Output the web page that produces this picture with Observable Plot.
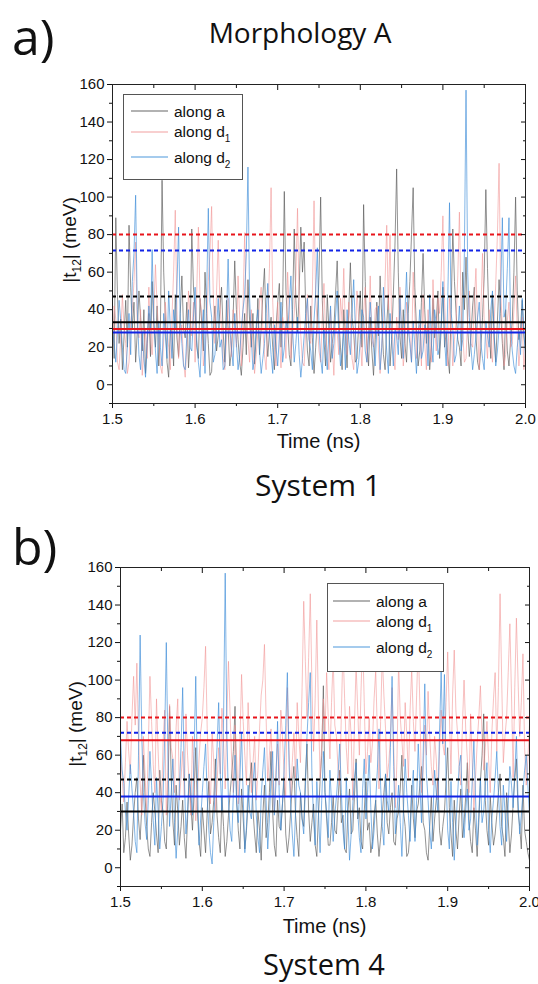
<!DOCTYPE html>
<html>
<head>
<meta charset="utf-8">
<script src="https://cdn.jsdelivr.net/npm/d3@7"></script>
<script src="https://cdn.jsdelivr.net/npm/@observablehq/plot@0.6"></script>
<style>
  html, body { margin: 0; padding: 0; background: #fff; }
  #page { position: relative; width: 538px; height: 984px; overflow: hidden; background: #fff; }
  .panel { position: absolute; left: 0; }
  #overlay { position: absolute; left: 0; top: 0; pointer-events: none; }
  .ttl { font-family: "Open Sans", "Noto Sans", sans-serif; fill: #111; }
  .ax { font-family: "Liberation Sans", Arial, sans-serif; fill: #111; }
  .lg { font-family: "Liberation Sans", Arial, sans-serif; fill: #111; font-size: 15.5px; }
</style>
</head>
<body>
<div id="page">
  <div id="panelA" class="panel" style="top:60px"></div>
  <div id="panelB" class="panel" style="top:545px"></div>
  <svg id="overlay" width="538" height="984">
    <text class="ttl" x="12" y="55" font-size="50">a)</text>
    <text class="ttl" x="300" y="43" font-size="28" text-anchor="middle">Morphology A</text>
    <text class="ax" font-size="19" text-anchor="middle" transform="translate(76,240) rotate(-90)">|t<tspan font-size="12" dy="5">12</tspan><tspan dy="-5">| (meV)</tspan></text>
    <text class="ax" x="318.5" y="448" font-size="20" text-anchor="middle">Time (ns)</text>
    <text class="ttl" x="318" y="496" font-size="30" text-anchor="middle">System 1</text>

    <text class="ttl" x="12" y="565" font-size="50">b)</text>
    <text class="ax" font-size="19" text-anchor="middle" transform="translate(82,724) rotate(-90)">|t<tspan font-size="12" dy="5">12</tspan><tspan dy="-5">| (meV)</tspan></text>
    <text class="ax" x="324.5" y="933" font-size="20" text-anchor="middle">Time (ns)</text>
    <text class="ttl" x="324" y="975" font-size="29" text-anchor="middle">System 4</text>

    <g id="legendA">
      <rect x="123.5" y="94.5" width="119" height="85" fill="#fff" stroke="#555" stroke-width="1"/>
      <line x1="131" x2="168" y1="111" y2="111" stroke="#666" stroke-width="1.2"/>
      <line x1="131" x2="168" y1="132" y2="132" stroke="#f2a0a0" stroke-width="1.2"/>
      <line x1="131" x2="168" y1="157" y2="157" stroke="#4c98dc" stroke-width="1.2"/>
      <text class="lg" x="174" y="117">along a</text>
      <text class="lg" x="174" y="137">along d<tspan font-size="10" dy="5">1</tspan></text>
      <text class="lg" x="174" y="163">along d<tspan font-size="10" dy="5">2</tspan></text>
    </g>
    <g id="legendB">
      <rect x="327.5" y="583.5" width="116" height="88" fill="#fff" stroke="#555" stroke-width="1"/>
      <line x1="333" x2="370" y1="601" y2="601" stroke="#666" stroke-width="1.2"/>
      <line x1="333" x2="370" y1="621" y2="621" stroke="#f2a0a0" stroke-width="1.2"/>
      <line x1="333" x2="370" y1="647" y2="647" stroke="#4c98dc" stroke-width="1.2"/>
      <text class="lg" x="376" y="607">along a</text>
      <text class="lg" x="376" y="627">along d<tspan font-size="10" dy="5">1</tspan></text>
      <text class="lg" x="376" y="653">along d<tspan font-size="10" dy="5">2</tspan></text>
    </g>
  </svg>
</div>
<script>
// ---- time sampling (ns) ----
const timeStart = 1.5;
const timeStep = 0.002;

// ---- axis ticks ----
const xMajor = [1.5, 1.6, 1.7, 1.8, 1.9, 2.0];
const xMinor = [1.55, 1.65, 1.75, 1.85, 1.95];
const yMajor = [0, 20, 40, 60, 80, 100, 120, 140, 160];
const yMinor = [-10, 10, 30, 50, 70, 90, 110, 130, 150];

// ---- series styling ----
const seriesNames = ["along a", "along d1", "along d2"];
const seriesColors = ["#555555", "#f08f8f", "#3b8ad8"];
const seriesOpacity = [0.8, 0.7, 0.8];
const ruleColors = ["#000000", "#e8141b", "#1023e6"];

// ---- System 1 (panel a) |t12| in meV ----
const blackA = [40,14,89,48,22,35,8,26,45,20,85,52,30,44,12,28,50,36,18,40,6,22,38,15,55,32,20,42,10,30,109,60,35,12,4,30,28,10,48,25,15,38,58,30,25,44,9,24,83,52,40,20,14,46,33,18,60,38,22,5,7,28,42,18,26,40,52,28,12,45,30,10,18,36,66,40,24,12,5,20,38,16,56,34,20,38,11,26,46,16,30,48,62,30,15,28,36,20,8,30,44,54,20,42,103,50,32,16,10,40,83,45,28,50,84,60,76,38,18,10,42,25,6,20,35,58,100,45,24,10,48,30,12,22,30,48,66,35,20,8,40,26,9,40,65,36,28,12,14,32,50,20,96,55,22,10,36,18,5,24,44,26,58,36,16,8,32,48,10,24,48,75,115,60,26,14,40,22,12,38,55,80,105,52,30,10,18,44,70,40,22,34,8,20,46,25,34,50,14,30,52,20,28,15,6,40,83,55,38,24,20,10,60,40,68,30,15,26,42,52,26,12,8,20,36,58,104,62,30,14,48,26,12,34,56,38,22,8,40,18,10,24,34,60,100,50,24,30,45,26,18];
const redA = [18,42,35,12,8,26,48,30,22,6,12,34,40,55,76,30,25,40,5,18,30,14,52,26,16,38,64,42,28,10,6,24,44,30,20,8,36,60,93,40,14,26,32,12,4,20,50,36,26,44,12,50,84,46,38,10,18,32,55,70,95,48,22,50,77,44,30,14,8,24,46,28,15,40,34,20,58,35,10,42,81,38,24,12,40,20,6,16,28,44,52,30,16,8,36,62,105,44,20,10,44,26,9,36,30,14,60,40,14,28,38,58,94,42,26,12,10,30,48,24,22,50,98,46,32,18,12,36,54,26,18,8,40,22,5,30,28,16,46,34,62,28,16,44,34,14,8,26,50,36,24,10,38,52,12,30,58,24,20,40,42,18,6,22,30,55,85,40,80,32,18,8,36,24,52,30,10,20,44,34,26,12,60,38,14,28,32,10,48,22,8,40,24,12,56,30,18,46,38,60,90,44,22,10,46,30,10,24,34,58,92,40,28,12,14,36,50,22,20,44,62,30,8,40,70,34,26,14,40,22,12,32,54,80,118,50,30,10,16,34,44,20,22,40,58,28,10,22,36,8,20];
const blueA = [30,22,12,28,45,34,20,8,6,20,38,16,55,70,101,40,16,8,28,14,4,24,42,30,72,36,18,6,34,20,10,38,26,14,50,30,14,40,30,52,84,36,22,10,8,26,40,20,18,36,52,24,12,4,28,40,6,48,94,44,36,12,16,30,46,20,24,8,10,36,67,30,20,10,38,22,8,16,30,40,48,70,116,46,26,8,14,32,40,18,6,14,22,38,54,28,16,6,32,20,10,26,44,12,20,34,28,42,58,30,12,22,36,16,4,14,26,38,46,24,18,8,34,50,73,30,14,6,30,20,8,28,42,14,22,36,50,26,10,18,28,8,40,24,16,38,56,30,6,12,24,40,36,18,12,26,44,30,20,10,30,42,8,20,52,32,18,6,38,24,10,30,26,16,46,28,14,38,60,30,22,12,34,20,6,26,40,14,18,32,28,10,48,22,12,40,32,16,20,34,55,24,10,48,97,38,30,12,16,28,42,18,24,70,157,60,36,20,8,16,26,36,44,22,14,8,34,26,20,40,50,28,10,18,30,50,89,36,40,62,89,30,18,10,6,20,28,16,46,30,14];
const solidA = [33.3, 29.7, 27.9];   // black, red, blue averages
const dashedA = [47, 80, 71.5];      // black, red, blue dashed levels

// ---- System 4 (panel b) |t12| in meV ----
const blackB = [20,34,8,16,35,18,4,12,28,40,48,26,15,32,60,38,22,10,6,24,40,30,18,8,52,36,30,14,10,40,86,48,25,12,44,30,12,22,36,16,5,26,50,34,20,40,64,30,14,6,32,20,8,30,46,18,24,36,58,28,16,8,38,22,6,14,28,40,50,62,86,36,20,10,42,26,10,20,34,46,56,30,18,8,30,20,4,28,44,16,24,40,62,30,12,6,36,22,20,34,48,18,8,16,30,44,54,28,16,6,40,26,22,48,66,30,14,24,34,12,6,28,46,60,97,40,26,12,12,24,38,20,18,36,52,24,28,10,8,30,42,18,20,38,58,26,32,14,10,30,46,20,24,8,14,28,36,18,6,16,28,40,50,24,18,32,40,14,12,26,30,42,60,30,22,6,8,20,44,26,16,30,34,44,54,24,20,8,4,22,38,14,26,36,48,20,12,22,30,46,64,32,18,6,36,20,10,28,42,16,24,38,56,26,14,8,32,20,6,24,46,60,82,36,20,12,38,24,12,18,28,40,50,22,16,6,40,26,8,18,34,48,58,30,22,10,44,20,14,8,4];
const redB = [60,48,35,56,78,62,50,80,102,76,109,70,45,28,70,50,30,64,102,78,55,40,90,62,40,30,66,84,28,52,87,64,58,40,75,90,36,48,62,38,82,60,44,28,70,46,25,40,58,72,80,96,118,74,48,34,72,56,30,44,64,50,85,66,42,80,110,82,56,40,76,58,34,66,103,78,60,44,88,64,40,56,70,36,52,74,92,100,119,80,46,60,74,48,30,52,66,44,84,70,50,38,96,64,38,56,72,48,88,70,56,96,142,110,80,112,146,98,62,90,132,84,48,66,90,72,104,80,58,88,112,76,70,52,44,82,118,90,64,50,86,70,36,76,108,84,60,94,122,88,50,62,80,56,66,90,105,72,42,78,114,92,74,48,56,70,96,64,32,58,110,80,68,54,88,70,48,84,106,78,62,92,120,86,40,52,76,60,94,70,54,44,70,58,36,62,84,66,60,88,115,82,50,92,116,84,72,54,44,76,100,74,58,40,82,56,30,48,66,80,97,70,52,64,78,58,40,72,90,104,62,96,146,100,56,70,80,104,130,92,48,96,133,100,70,88,114,64,44,58,76];
const blueB = [70,52,45,30,20,38,55,42,30,14,8,60,124,70,40,24,15,36,62,44,25,12,48,30,10,22,36,70,120,60,22,40,58,24,5,20,42,64,96,50,18,30,50,40,28,62,102,48,12,26,40,54,66,38,20,8,2,24,46,64,88,50,30,80,157,72,35,20,14,40,60,34,24,48,72,38,8,22,44,30,26,46,56,28,16,8,38,52,64,36,10,26,48,62,28,44,78,40,20,34,52,76,104,56,34,18,6,30,58,44,40,26,18,42,70,88,104,50,26,12,46,30,8,36,62,40,30,16,52,34,14,28,38,50,66,40,20,10,48,26,4,18,34,48,56,30,16,8,42,58,26,40,60,32,10,20,36,52,74,44,22,12,50,36,30,64,102,54,18,30,44,24,6,32,58,40,28,14,40,52,14,36,66,44,24,60,98,50,36,20,10,28,52,40,30,72,105,66,103,48,20,10,46,24,4,22,38,54,60,34,16,30,42,20,26,46,68,38,12,28,48,24,30,44,56,20,8,26,36,48,62,40,22,12,44,30,14,34,54,44,32,50,70,36,18,28,40,52,60,44,28];
const solidB = [30, 68, 38];
const dashedB = [47, 80, 72];

function rows(values) {
  return values.map((v, i) => ({t: timeStart + i * timeStep, v}));
}

function panel({series, solid, dashed, height, margins}) {
  const marks = [];
  series.forEach((vals, k) => {
    marks.push(Plot.line(rows(vals), {
      x: "t", y: "v", stroke: seriesColors[k], strokeOpacity: seriesOpacity[k],
      strokeWidth: 0.8, curve: "linear"
    }));
  });
  dashed.forEach((v, k) => {
    marks.push(Plot.ruleY([v], {stroke: ruleColors[k], strokeWidth: 2, strokeDasharray: "4,3"}));
  });
  solid.forEach((v, k) => {
    marks.push(Plot.ruleY([v], {stroke: ruleColors[k], strokeWidth: 2}));
  });
  const fmt1 = d => d.toFixed(1);
  marks.push(
    Plot.axisX(xMajor, {anchor: "bottom", tickSize: 5, tickPadding: 5, tickFormat: fmt1, label: null}),
    Plot.axisX(xMinor, {anchor: "bottom", tickSize: 3, tickFormat: () => "", label: null}),
    Plot.axisY(yMajor, {anchor: "left", tickSize: 5, tickPadding: 3, tickFormat: d => String(d), label: null}),
    Plot.axisY(yMinor, {anchor: "left", tickSize: 3, tickFormat: () => "", label: null}),
    Plot.axisX(xMajor, {anchor: "top", tickSize: 5, dy: 5, tickFormat: () => "", label: null}),
    Plot.axisX(xMinor, {anchor: "top", tickSize: 3, dy: 3, tickFormat: () => "", label: null}),
    Plot.axisY(yMajor, {anchor: "right", tickSize: 5, dx: -5, tickFormat: () => "", label: null}),
    Plot.axisY(yMinor, {anchor: "right", tickSize: 3, dx: -3, tickFormat: () => "", label: null}),
    Plot.frame({stroke: "#222", strokeWidth: 1})
  );
  return Plot.plot({
    width: 538, height,
    marginLeft: margins[0], marginRight: margins[1], marginTop: margins[2], marginBottom: margins[3],
    x: {domain: [1.5, 2.0]},
    y: {domain: [-10, 160]},
    style: {fontFamily: "'Liberation Sans', Arial, sans-serif", fontSize: "15px", color: "#111", background: "transparent"},
    marks
  });
}

document.getElementById("panelA").appendChild(panel({
  series: [blackA, redA, blueA], solid: solidA, dashed: dashedA,
  height: 400, margins: [112, 13, 24, 57]
}));
document.getElementById("panelB").appendChild(panel({
  series: [blackB, redB, blueB], solid: solidB, dashed: dashedB,
  height: 400, margins: [120, 9, 22, 59]
}));
</script>
</body>
</html>
